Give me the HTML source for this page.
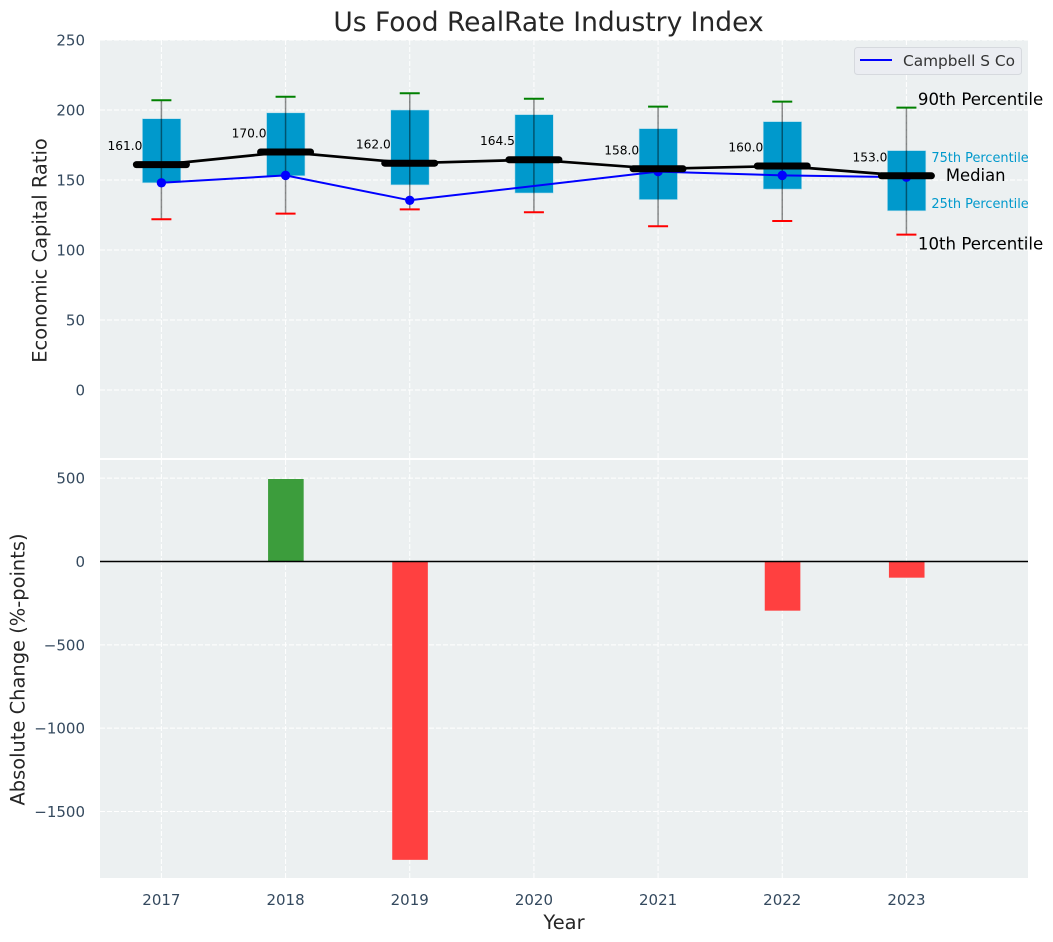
<!DOCTYPE html>
<html>
<head>
<meta charset="utf-8">
<title>Us Food RealRate Industry Index</title>
<style>
html,body{margin:0;padding:0;background:#fff;}
svg{display:block;font-family:"DejaVu Sans","Liberation Sans",sans-serif;}
</style>
</head>
<body>
<svg id="chart" width="1053" height="942" viewBox="0 0 1053 942" xmlns="http://www.w3.org/2000/svg">
  <rect x="100" y="40" width="928" height="418" fill="#ecf0f1"/>
  <rect x="100" y="460" width="928" height="418" fill="#ecf0f1"/>
  <g id="grid"></g>
  <g id="bars"></g>
  <g id="boxes"></g>
  <g id="lines"></g>
  <g id="labels"></g>
  <g id="notes"></g>
  <text x="548.5" y="31" text-anchor="middle" font-size="26.5" fill="#262626">Us Food RealRate Industry Index</text>
  <text transform="translate(46.5,250.5) rotate(-90)" text-anchor="middle" font-size="19.45" fill="#262626">Economic Capital Ratio</text>
  <text transform="translate(24.5,669.5) rotate(-90)" text-anchor="middle" font-size="19.45" fill="#262626">Absolute Change (%-points)</text>
  <text x="564" y="929" text-anchor="middle" font-size="19.45" fill="#262626">Year</text>
  <g>
    <rect x="854.5" y="47.5" width="167" height="27" rx="3" fill="#ebedf2" stroke="#d6d9de" stroke-width="1"/>
    <line x1="860" y1="60" x2="892" y2="60" stroke="#0000ff" stroke-width="2"/>
    <text x="903" y="66" font-size="15.4" fill="#333333" textLength="112" lengthAdjust="spacingAndGlyphs">Campbell S Co</text>
  </g>
</svg>
<script>
const years = [2017, 2018, 2019, 2020, 2021, 2022, 2023];
const p90 = [207, 209.5, 212, 208, 202.4, 206, 201.7];
const p75 = [193.8, 198, 200, 196.7, 186.7, 191.7, 171];
const medians = [161, 170, 162, 164.5, 158, 160, 153];
const p25 = [148, 153, 146.5, 140.7, 136, 143.5, 128];
const p10 = [122, 126, 129, 127, 117, 120.7, 111];
const company = [148, 153.3, 135.5, null, 156, 153.3, 152];
const changes = [null, 495, -1790, null, null, -295, -97];
const topTicks = [0, 50, 100, 150, 200, 250];
const bottomTicks = [-1500, -1000, -500, 0, 500];

const SVGNS = 'http://www.w3.org/2000/svg';
function xAxis(year) { return 161.4 + 124.17 * (year - 2017); }
function yTop(v) { return 390 - 1.4 * v; }
function yBottom(v) { return 561.5 - 0.16667 * v; }
function make(tag, parentId, props, text) {
  const el = document.createElementNS(SVGNS, tag);
  Object.keys(props).forEach(function (k) { el.setAttribute(k, props[k]); });
  if (text !== undefined) el.textContent = text;
  document.getElementById(parentId).appendChild(el);
  return el;
}
function minusFmt(v) { return String(v).replace('-', '\u2212'); }

const gridStyle = { stroke: '#ffffff', 'stroke-width': 1, 'stroke-dasharray': '5 2' };
const tickFont = 15;
const tickColor = '#34495e';
years.forEach(function (y, i) {
  const vx = xAxis(y);
  const g1 = make('line', 'grid', Object.assign({ x1: vx, x2: vx, y1: 40, y2: 458 }, gridStyle));
  
  
  const g2 = make('line', 'grid', Object.assign({ x1: vx, x2: vx, y1: 460, y2: 878 }, gridStyle));
  
  
  const t = make('text', 'labels', { x: vx, y: 905, 'text-anchor': 'middle', 'font-size': tickFont, fill: tickColor }, String(y));
  
  
});
topTicks.forEach(function (v) {
  const py = yTop(v);
  const g = make('line', 'grid', Object.assign({ x1: 100, x2: 1028, y1: py, y2: py }, gridStyle));
  
  
  const t = make('text', 'labels', { x: 85, y: py + 5.5, 'text-anchor': 'end', 'font-size': tickFont, fill: tickColor }, minusFmt(v));
  
  
});
bottomTicks.forEach(function (v) {
  const py = yBottom(v);
  const g = make('line', 'grid', Object.assign({ x1: 100, x2: 1028, y1: py, y2: py }, gridStyle));
  
  
  const t = make('text', 'labels', { x: 85, y: py + 5.5, 'text-anchor': 'end', 'font-size': tickFont, fill: tickColor }, minusFmt(v));
  
  
});

changes.forEach(function (v, i) {
  if (v === null) return;
  const top = Math.min(yBottom(0), yBottom(v));
  const h = Math.abs(yBottom(v) - yBottom(0));
  const b = make('rect', 'bars', { x: xAxis(years[i]) - 17.5, y: top, width: 35.6, height: h, fill: v >= 0 ? '#3c9d3c' : '#ff4040' });
  
  
});
const zero = make('line', 'bars', { x1: 100, x2: 1028, y1: yBottom(0), y2: yBottom(0), stroke: '#000000', 'stroke-width': 1.4 });



years.forEach(function (y, i) {
  const cx = xAxis(y);
  const box = make('rect', 'boxes', { x: cx - 19, y: yTop(p75[i]), width: 38.4, height: yTop(p25[i]) - yTop(p75[i]), fill: '#0099cc', stroke: '#b5deec', 'stroke-width': 0.6 });
  
  
  const whisker = make('line', 'boxes', { x1: cx, x2: cx, y1: yTop(p90[i]), y2: yTop(p10[i]), stroke: '#000000', 'stroke-opacity': 0.45, 'stroke-width': 1.5 });
  
  
  const capHi = make('line', 'boxes', { x1: cx - 10, x2: cx + 10, y1: yTop(p90[i]), y2: yTop(p90[i]), stroke: '#008000', 'stroke-width': 2 });
  
  
  const capLo = make('line', 'boxes', { x1: cx - 10, x2: cx + 10, y1: yTop(p10[i]), y2: yTop(p10[i]), stroke: '#ff0000', 'stroke-width': 2 });
  
  
});

const companyPts = [];
company.forEach(function (v, i) {
  if (v !== null) companyPts.push(xAxis(years[i]) + ',' + yTop(v));
});
const companyLine = make('polyline', 'lines', { points: companyPts.join(' '), fill: 'none', stroke: '#0000ff', 'stroke-width': 2 });


company.forEach(function (v, i) {
  if (v === null) return;
  const dot = make('circle', 'lines', { cx: xAxis(years[i]), cy: yTop(v), r: 4.7, fill: '#0000ff' });
  
  
});

const medianPts = medians.map(function (v, i) { return xAxis(years[i]) + ',' + yTop(v); });
const medianLine = make('polyline', 'lines', { points: medianPts.join(' '), fill: 'none', stroke: '#000000', 'stroke-width': 2.7 });


medians.forEach(function (v, i) {
  const cx = xAxis(years[i]);
  const m = make('line', 'lines', { x1: cx - 25, x2: cx + 25, y1: yTop(v), y2: yTop(v), stroke: '#000000', 'stroke-width': 7, 'stroke-linecap': 'round' });
  
  
  const t = make('text', 'notes', { x: cx - 19, y: yTop(v) - 14.5, 'text-anchor': 'end', 'font-size': 12.2, fill: '#000000' }, v.toFixed(1));
  
  
});

const last = years.length - 1;
const lastX = xAxis(years[last]);
const n90 = make('text', 'notes', { x: lastX + 11.5, y: yTop(p90[last]) - 2.5, 'font-size': 16.6, fill: '#000000' }, '90th Percentile');


const n10 = make('text', 'notes', { x: lastX + 11.5, y: yTop(p10[last]) + 14.7, 'font-size': 16.6, fill: '#000000' }, '10th Percentile');


const n75 = make('text', 'notes', { x: lastX + 25, y: yTop(p75[last]) + 11.5, 'font-size': 12.9, fill: '#0099cc' }, '75th Percentile');


const n25 = make('text', 'notes', { x: lastX + 25, y: yTop(p25[last]) - 3, 'font-size': 12.9, fill: '#0099cc' }, '25th Percentile');


const nMed = make('text', 'notes', { x: lastX + 39.5, y: yTop(medians[last]) + 5, 'font-size': 16.4, fill: '#000000' }, 'Median');


</script>
</body>
</html>
